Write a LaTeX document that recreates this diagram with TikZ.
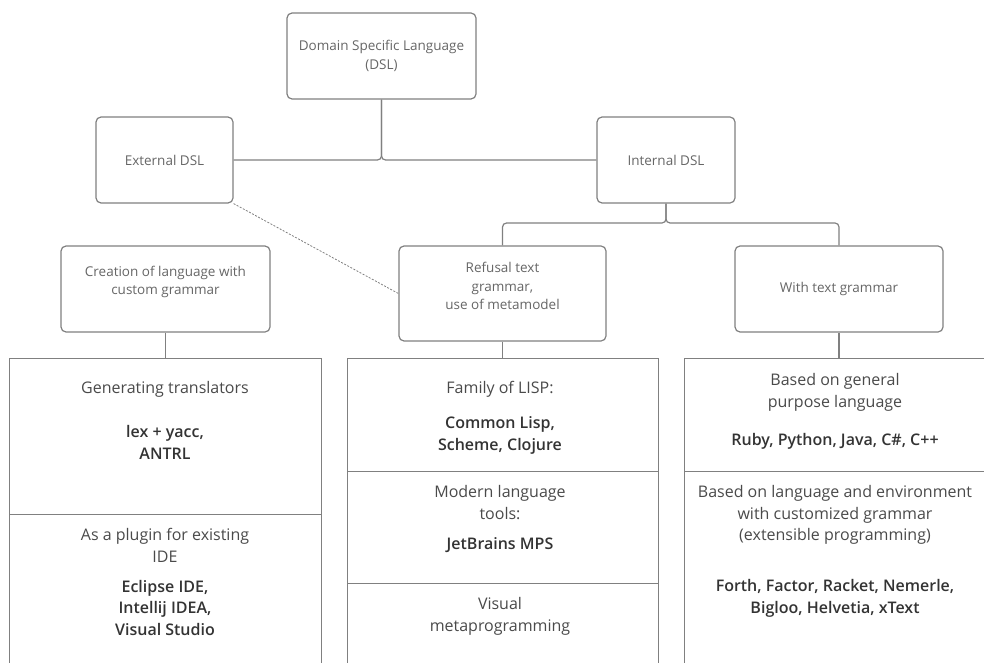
\documentclass[tikz,border=0pt]{standalone}
\usepackage{fontspec}
\setmainfont{Open Sans}
\IfFontExistsTF{Open Sans SemiBold}{\newfontfamily\semifont{Open Sans SemiBold}}{%
  \IfFontExistsTF{Open Sans Semibold}{\newfontfamily\semifont{Open Sans Semibold}}{%
    \newfontfamily\semifont{Open Sans}[FakeBold=2]}}
\definecolor{linegray}{HTML}{808080}
\definecolor{toptext}{HTML}{666666}
\definecolor{celltext}{HTML}{4A4A4A}
\definecolor{boldtext}{HTML}{333333}
\newcommand\strongtxt[1]{{\semifont\color{boldtext}#1}}
\newcommand\firstln{\rule{0pt}{13pt}}
\begin{document}
\begin{tikzpicture}[x=1pt,y=-1pt,
  rbox/.style={draw=linegray, line width=1.2pt, rounded corners=5pt, inner sep=0pt, text=toptext, font=\fontsize{13.5}{18.5}\selectfont, align=center},
  toplbl/.style={inner sep=0pt, text=toptext, font=\fontsize{13.5}{18.5}\selectfont, align=center},
  cell/.style={draw=linegray, line width=1.2pt, inner sep=0pt, anchor=north west},
  ctext/.style={anchor=north, align=center, inner sep=0pt, text=celltext, font=\fontsize{16}{21.5}\selectfont},
  conn/.style={draw=linegray, line width=1.2pt, rounded corners=4pt},
  dashconn/.style={draw=linegray, line width=0.8pt, dash pattern=on 2pt off 1.5pt}
]
\useasboundingbox (0,0) rectangle (984,663);
\clip (0,0) rectangle (984,663);

% top level boxes
\node[rbox, minimum width=189pt, minimum height=86pt] (dsl) at (381.5,56) {Domain Specific Language\\(DSL)};
\node[rbox, minimum width=137pt, minimum height=86pt] (ext) at (164.5,160) {External DSL};
\node[rbox, minimum width=138pt, minimum height=86pt] (int) at (666,160) {Internal DSL};

% second level boxes
\node[rbox, minimum width=209pt, minimum height=86pt,
  label={[toplbl, yshift=7pt]center:{Creation of language with\\custom grammar}}] (cre) at (165.5,289) {};
\node[rbox, minimum width=207pt, minimum height=95pt,
  label={[toplbl, yshift=7.5pt]center:{Refusal text\\grammar,\\use of metamodel}}] (ref) at (502.5,293.5) {};
\node[rbox, minimum width=208pt, minimum height=86pt] (wtg) at (839,289) {With text grammar};

% bottom cells
\node[cell, minimum width=312pt, minimum height=156pt] (gen) at (9,358) {};
\node[cell, minimum width=312pt, minimum height=200pt] (plug) at (9,514) {};
\node[cell, minimum width=311pt, minimum height=113pt] (lisp) at (347,358) {};
\node[cell, minimum width=311pt, minimum height=112pt] (modern) at (347,471) {};
\node[cell, minimum width=311pt, minimum height=120pt] (visual) at (347,583) {};
\node[cell, minimum width=310pt, minimum height=113pt] (gp) at (684,358) {};
\node[cell, minimum width=310pt, minimum height=240pt] (extp) at (684,471) {};

% cell texts (north = first baseline - 13pt)
\node[ctext] (tgen) at (165,380.7) {\firstln Generating translators\\[22.5pt]\strongtxt{lex + yacc,}\\\strongtxt{ANTRL}};
\node[ctext] (tplug) at (165,527.7) {\firstln As a plugin for existing\\IDE\\[8.5pt]\strongtxt{Eclipse IDE,}\\\strongtxt{Intellij IDEA,}\\\strongtxt{Visual Studio}};
\node[ctext] (tlisp) at (500,380.7) {\firstln Family of LISP:\\[13.5pt]\strongtxt{Common Lisp,}\\\strongtxt{Scheme, Clojure}};
\node[ctext] (tmodern) at (500,484.7) {\firstln Modern language\\tools:\\[8.5pt]\strongtxt{JetBrains MPS}};
\node[ctext] (tvisual) at (500,596.7) {\firstln Visual\\metaprogramming};
\node[ctext] (tgp) at (835,372.7) {\firstln Based on general\\purpose language\\[16.5pt]\strongtxt{Ruby, Python, Java, C\#, C++}};
\node[ctext] (textp) at (835,484.7) {\firstln Based on language and environment\\with customized grammar\\(extensible programming)\\[29.5pt]\strongtxt{Forth, Factor, Racket, Nemerle,}\\\strongtxt{Bigloo, Helvetia, xText}};

% connectors
\coordinate (j1) at (381.5,160);
\coordinate (j2) at (666,223);
\draw[conn] (dsl.south) |- (ext.east);
\draw[conn] (dsl.south) |- (int.west);
\draw[conn] (int.south) |- (ref.north |- j2) -- (ref.north);
\draw[conn] (int.south) |- (wtg.north |- j2) -- (wtg.north);
\draw[dashconn] (ext.south east) -- (ref.west);
\draw[conn] (cre.south) -- (cre.south |- gen.north);
\draw[conn] (ref.south) -- (ref.south |- lisp.north);
\draw[conn] (wtg.south) -- (wtg.south |- gp.north);
\end{tikzpicture}
\end{document}
